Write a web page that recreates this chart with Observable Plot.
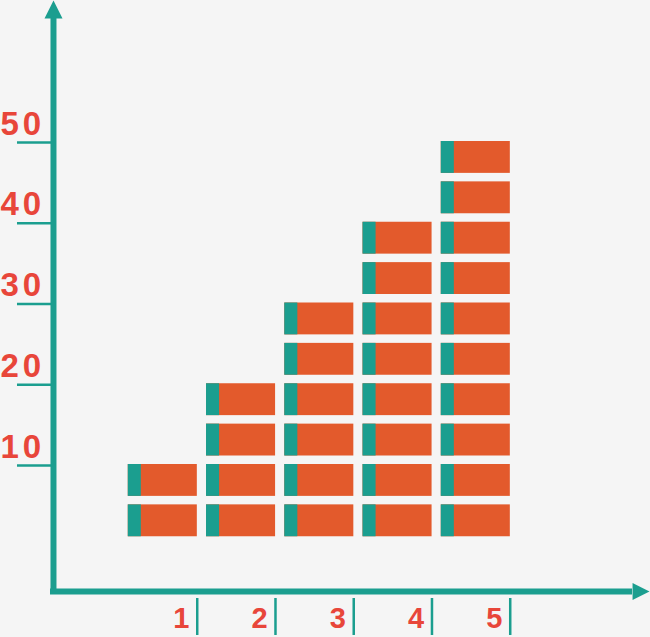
<!DOCTYPE html>
<html><head><meta charset="utf-8">
<script src="https://cdn.jsdelivr.net/npm/d3@7"></script>
<script src="https://cdn.jsdelivr.net/npm/@observablehq/plot@0.6"></script>
<style>
html,body{margin:0;padding:0;background:#f5f5f5;overflow:hidden;}
</style></head><body><div id="chart"></div>
<script>
// ---- data ----
const categories = [1, 2, 3, 4, 5];
const values = [10, 20, 30, 40, 50];
const yTickValues = [10, 20, 30, 40, 50];
const xTickLabels = ["1", "2", "3", "4", "5"];
const blockSize = 5;

// ---- style ----
const teal = "#1b9e8f";
const orange = "#e35a2c";
const red = "#e8463a";
const font = "'Liberation Sans', Arial, sans-serif";

// ---- scales (data units) ----
const xDomain = [-1.0741, 7.2326];
const yDomain = [-11.30, 67.585];

// axis layout in data units
const axX = -0.397;       // vertical axis position
const axY = -5.604;       // horizontal axis position
const axXLeft = -0.435;   // left edge of vertical axis stroke
const axYBottom = -5.976; // bottom edge of horizontal axis stroke
const upBase = 65.36, upTip = 67.585, upHalf = 0.115;
const rightBase = 7.003, rightTip = 7.2198, rightHalf = 1.053;
const yTickStart = -0.857;
const xTickOffset = 0.44;
const xTickTop = -6.47, xTickBottom = -11.05;

// blocks from values
const blocks = [];
categories.forEach((c, i) => {
  const n = Math.round(values[i] / blockSize);
  for (let k = 1; k <= n; k++) blocks.push({cat: c, lo: (k - 1) * blockSize, hi: k * blockSize});
});

const chart = Plot.plot({
  width: 650,
  height: 637,
  margin: 0,
  style: {background: "#f5f5f5", fontFamily: font},
  x: {domain: xDomain, axis: null},
  y: {domain: yDomain, axis: null},
  marks: [
    // blocks
    Plot.rect(blocks, {x1: d => d.cat - 0.5, x2: d => d.cat + 0.5, y1: "lo", y2: "hi",
      fill: orange, insetLeft: 4.6, insetRight: 4.6, insetTop: -1, insetBottom: 9.5}),
    Plot.rect(blocks, {x1: d => d.cat - 0.5, x2: d => d.cat + 0.5, y1: "lo", y2: "hi",
      fill: teal, insetLeft: 4.6, insetRight: 60.6, insetTop: -1, insetBottom: 9.5}),
    // y tick lines
    Plot.ruleY(yTickValues, {x1: yTickStart, x2: axX, stroke: teal, strokeWidth: 2.5}),
    // x tick lines
    Plot.ruleX(categories, {x: d => d + xTickOffset, y1: xTickTop, y2: xTickBottom, stroke: teal, strokeWidth: 2.5}),
    // axes
    Plot.ruleX([axX], {y1: axYBottom, y2: upBase, stroke: teal, strokeWidth: 6}),
    Plot.ruleY([axY], {x1: axXLeft, x2: rightBase, stroke: teal, strokeWidth: 6}),
    Plot.line([[axX - upHalf, upBase], [axX, upTip], [axX + upHalf, upBase]], {fill: teal, stroke: "none"}),
    Plot.line([[rightBase, axY + rightHalf], [rightTip, axY], [rightBase, axY - rightHalf]], {fill: teal, stroke: "none"}),
    // y labels
    Plot.text(yTickValues, {x: xDomain[0], y: d => d, text: d => String(d), textAnchor: "start",
      dy: -18.5, fontSize: 33, fontWeight: "bold", fill: red}),
    // x labels
    Plot.text(categories, {x: d => d + xTickOffset, y: axY, text: (d, i) => xTickLabels[i], textAnchor: "middle",
      dx: -16, dy: 27.6, fontSize: 29, fontWeight: "bold", fill: red})
  ]
});
// letter spacing for the two-digit y labels (first text mark)
const textGroups = chart.querySelectorAll('g[aria-label="text"]');
if (textGroups.length) textGroups[0].querySelectorAll("text").forEach(t => t.style.letterSpacing = "4px");
document.getElementById("chart").appendChild(chart);
</script>
</body></html>
